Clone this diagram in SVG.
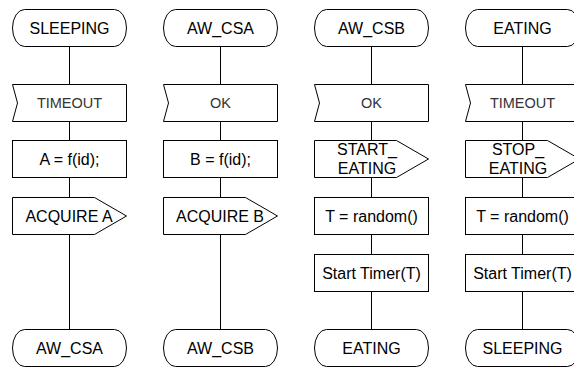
<svg xmlns="http://www.w3.org/2000/svg" width="574" height="370" viewBox="0 0 574 370">
<style>
.s{fill:#fff;stroke:#000;stroke-width:1}
.c line{stroke:#000;stroke-width:1}
text{font-family:"Liberation Sans",Arial,sans-serif;font-size:16px;fill:#000;text-anchor:middle}
text.in{font-size:14.5px;fill:#333}
</style>
<rect width="574" height="370" fill="#fff"/>
<g class="c" id="connectors">
<line x1="69.5" y1="46.5" x2="69.5" y2="84.5"/>
<line x1="69.5" y1="121.5" x2="69.5" y2="140.5"/>
<line x1="69.5" y1="177.5" x2="69.5" y2="197.5"/>
<line x1="69.5" y1="234.5" x2="69.5" y2="329.5"/>
<line x1="220.5" y1="46.5" x2="220.5" y2="84.5"/>
<line x1="220.5" y1="121.5" x2="220.5" y2="140.5"/>
<line x1="220.5" y1="177.5" x2="220.5" y2="197.5"/>
<line x1="220.5" y1="234.5" x2="220.5" y2="329.5"/>
<line x1="371.5" y1="46.5" x2="371.5" y2="84.5"/>
<line x1="371.5" y1="121.5" x2="371.5" y2="140.5"/>
<line x1="371.5" y1="177.5" x2="371.5" y2="197.5"/>
<line x1="371.5" y1="234.5" x2="371.5" y2="254.5"/>
<line x1="371.5" y1="291.5" x2="371.5" y2="329.5"/>
<line x1="522.5" y1="46.5" x2="522.5" y2="84.5"/>
<line x1="522.5" y1="121.5" x2="522.5" y2="140.5"/>
<line x1="522.5" y1="177.5" x2="522.5" y2="197.5"/>
<line x1="522.5" y1="234.5" x2="522.5" y2="254.5"/>
<line x1="522.5" y1="291.5" x2="522.5" y2="329.5"/>
</g>
<!-- Column 1 -->
<g id="c1-sleeping"><path class="s" d="M24.5,9.5H114.5A12,18.5 0 0 1 114.5,46.5H24.5A12,18.5 0 0 1 24.5,9.5Z"/><text x="69.5" y="33.7">SLEEPING</text></g>
<g id="c1-timeout"><path class="s" d="M12.5,84.5H126.5V121.5H12.5L17.5,103Z"/><text class="in" x="69.5" y="108.2">TIMEOUT</text></g>
<g id="c1-assign"><rect class="s" x="12.5" y="140.5" width="114" height="37"/><text x="69.5" y="164.7">A = f(id);</text></g>
<g id="c1-acquire"><path class="s" d="M12.5,197.5H94.5L126.5,216L94.5,234.5H12.5Z"/><text x="69" y="221.7">ACQUIRE A</text></g>
<g id="c1-awcsa"><path class="s" d="M24.5,329.5H114.5A12,18.5 0 0 1 114.5,366.5H24.5A12,18.5 0 0 1 24.5,329.5Z"/><text x="69.5" y="353.7">AW_CSA</text></g>
<!-- Column 2 -->
<g id="c2-awcsa"><path class="s" d="M175.5,9.5H265.5A12,18.5 0 0 1 265.5,46.5H175.5A12,18.5 0 0 1 175.5,9.5Z"/><text x="220.5" y="33.7">AW_CSA</text></g>
<g id="c2-ok"><path class="s" d="M163.5,84.5H277.5V121.5H163.5L168.5,103Z"/><text class="in" x="220.5" y="108.2">OK</text></g>
<g id="c2-assign"><rect class="s" x="163.5" y="140.5" width="114" height="37"/><text x="220.5" y="164.7">B = f(id);</text></g>
<g id="c2-acquire"><path class="s" d="M163.5,197.5H245.5L277.5,216L245.5,234.5H163.5Z"/><text x="220" y="221.7">ACQUIRE B</text></g>
<g id="c2-awcsb"><path class="s" d="M175.5,329.5H265.5A12,18.5 0 0 1 265.5,366.5H175.5A12,18.5 0 0 1 175.5,329.5Z"/><text x="220.5" y="353.7">AW_CSB</text></g>
<!-- Column 3 -->
<g id="c3-awcsb"><path class="s" d="M326.5,9.5H416.5A12,18.5 0 0 1 416.5,46.5H326.5A12,18.5 0 0 1 326.5,9.5Z"/><text x="371.5" y="33.7">AW_CSB</text></g>
<g id="c3-ok"><path class="s" d="M314.5,84.5H428.5V121.5H314.5L319.5,103Z"/><text class="in" x="371.5" y="108.2">OK</text></g>
<g id="c3-start"><path class="s" d="M314.5,140.5H396.5L428.5,159L396.5,177.5H314.5Z"/><text x="367" y="155">START_</text><text x="367" y="174">EATING</text></g>
<g id="c3-random"><rect class="s" x="314.5" y="197.5" width="114" height="37"/><text x="371.5" y="221.7">T = random()</text></g>
<g id="c3-timer"><rect class="s" x="314.5" y="254.5" width="114" height="37"/><text x="371.5" y="278.7">Start Timer(T)</text></g>
<g id="c3-eating"><path class="s" d="M326.5,329.5H416.5A12,18.5 0 0 1 416.5,366.5H326.5A12,18.5 0 0 1 326.5,329.5Z"/><text x="371.5" y="353.7">EATING</text></g>
<!-- Column 4 -->
<g id="c4-eating"><path class="s" d="M477.5,9.5H567.5A12,18.5 0 0 1 567.5,46.5H477.5A12,18.5 0 0 1 477.5,9.5Z"/><text x="522.5" y="33.7">EATING</text></g>
<g id="c4-timeout"><path class="s" d="M465.5,84.5H579.5V121.5H465.5L470.5,103Z"/><text class="in" x="522.5" y="108.2">TIMEOUT</text></g>
<g id="c4-stop"><path class="s" d="M465.5,140.5H547.5L579.5,159L547.5,177.5H465.5Z"/><text x="518" y="155">STOP_</text><text x="518" y="174">EATING</text></g>
<g id="c4-random"><rect class="s" x="465.5" y="197.5" width="114" height="37"/><text x="522.5" y="221.7">T = random()</text></g>
<g id="c4-timer"><rect class="s" x="465.5" y="254.5" width="114" height="37"/><text x="522.5" y="278.7">Start Timer(T)</text></g>
<g id="c4-sleeping"><path class="s" d="M477.5,329.5H567.5A12,18.5 0 0 1 567.5,366.5H477.5A12,18.5 0 0 1 477.5,329.5Z"/><text x="522.5" y="353.7">SLEEPING</text></g>
</svg>
